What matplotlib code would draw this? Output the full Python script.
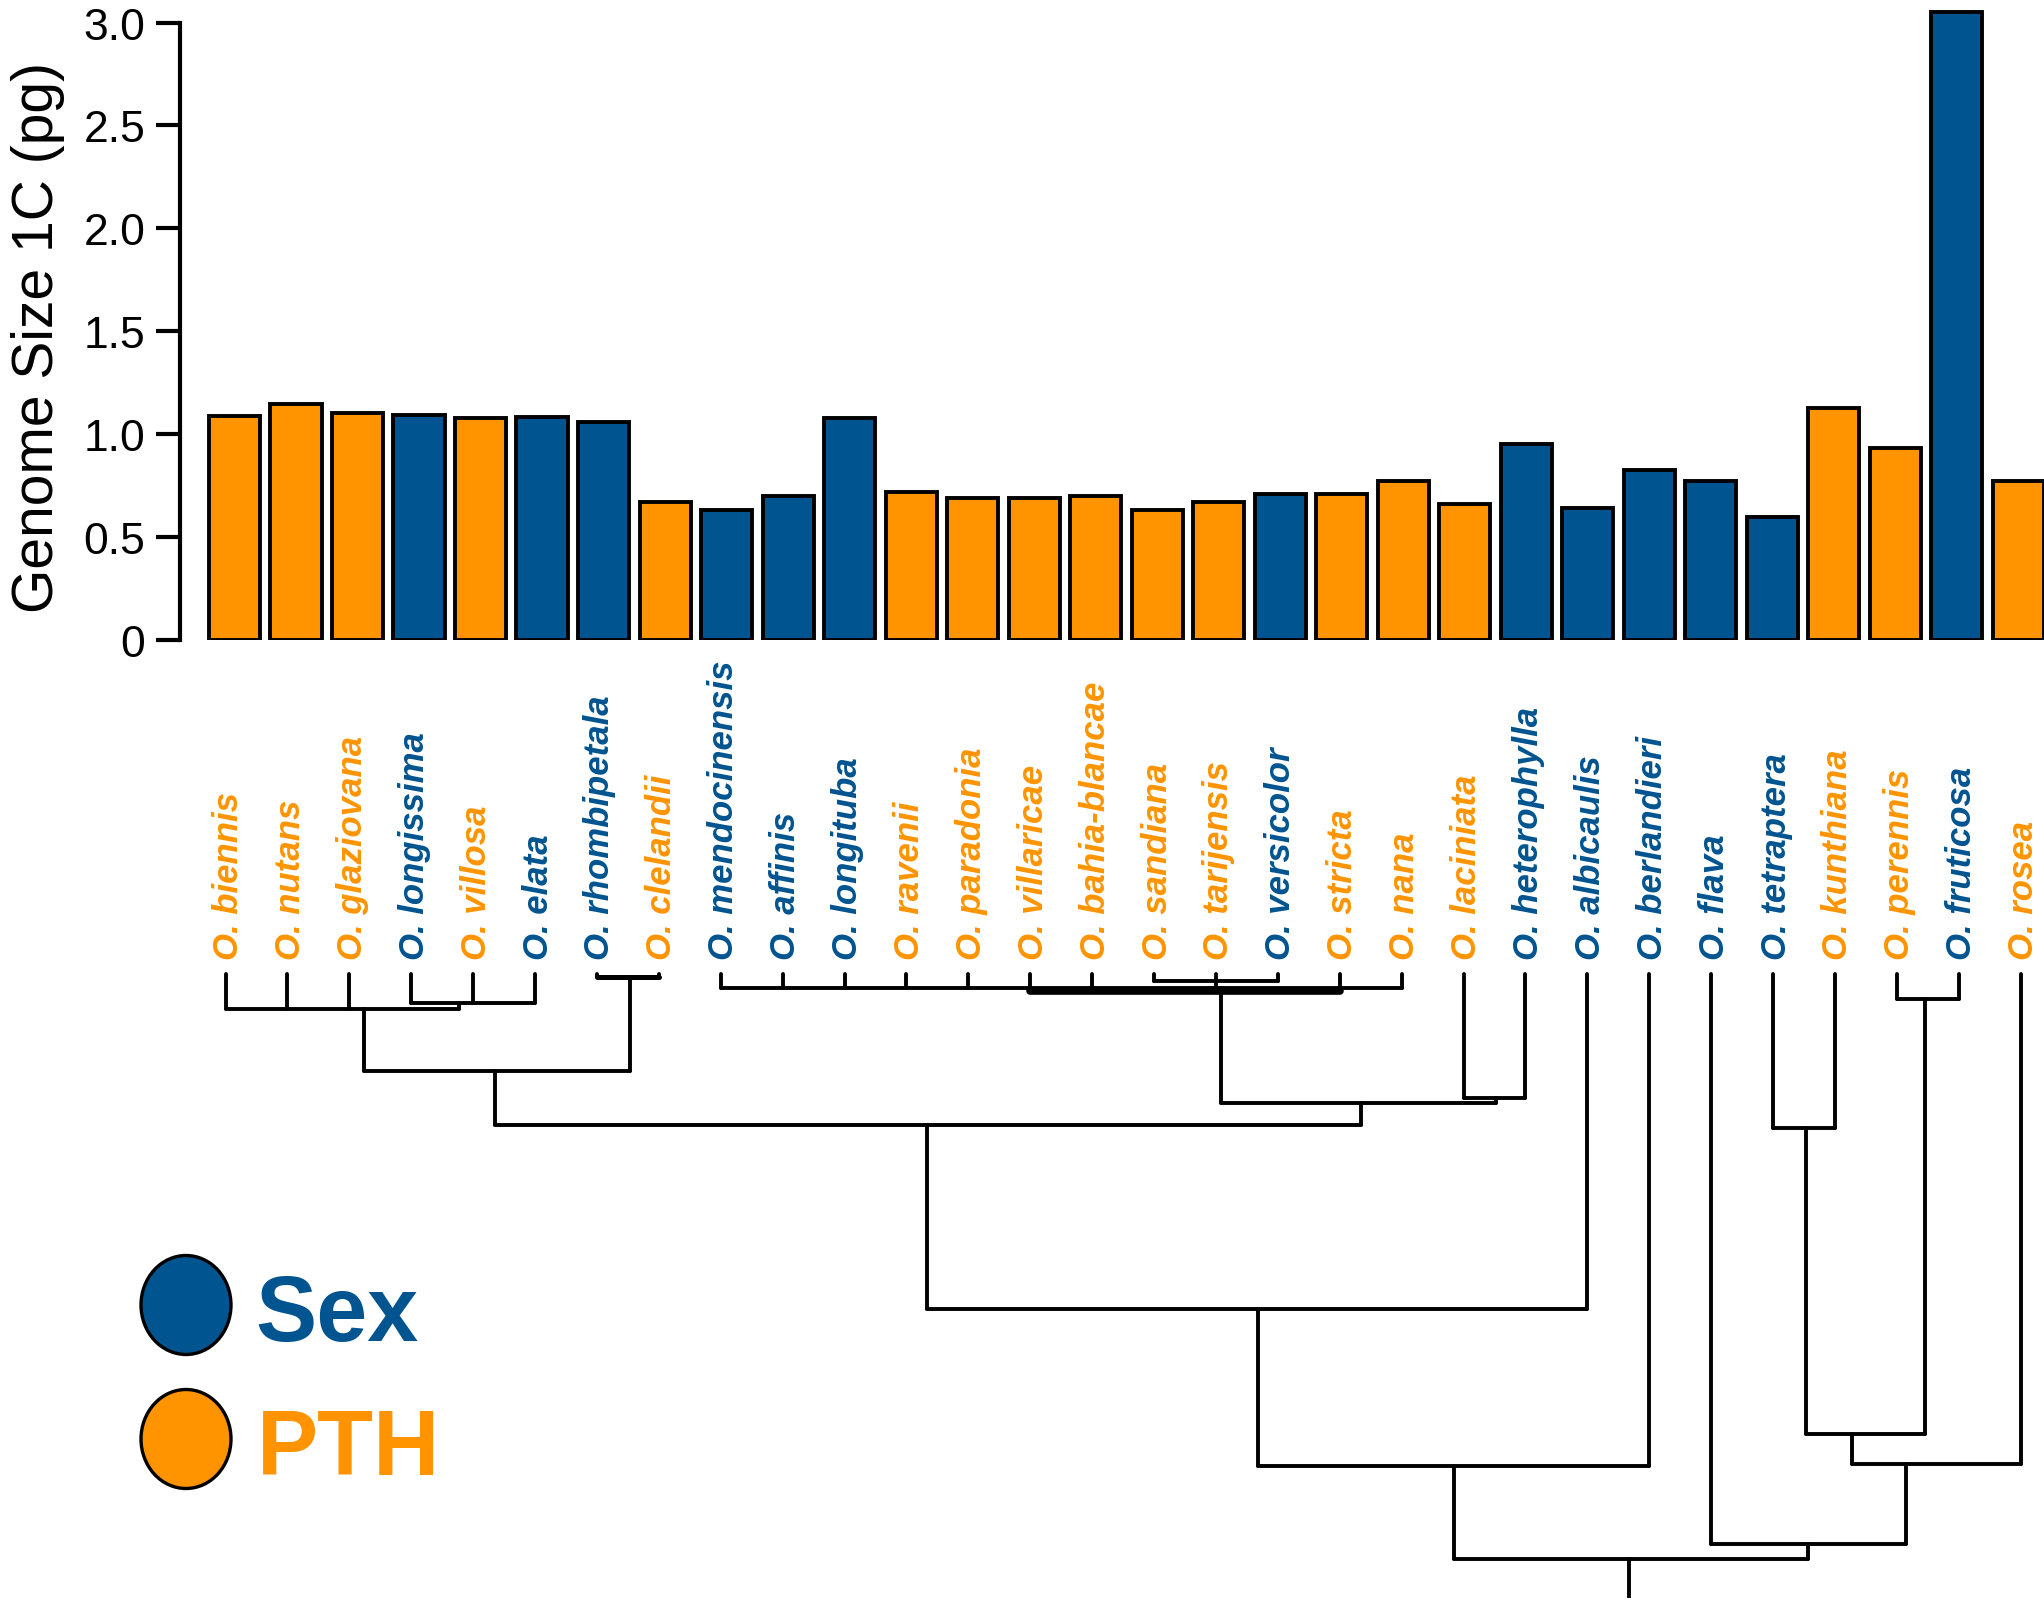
import numpy as np
import matplotlib
matplotlib.use("Agg")
import matplotlib.pyplot as plt
from matplotlib.patches import Ellipse

plt.rcParams['font.family'] = ['Liberation Sans', 'DejaVu Sans']

BLUE = '#00548F'
ORANGE = '#FF9400'

species = ['biennis', 'nutans', 'glaziovana', 'longissima', 'villosa', 'elata',
           'rhombipetala', 'clelandii', 'mendocinensis', 'affinis', 'longituba',
           'ravenii', 'paradonia', 'villaricae', 'bahia-blancae', 'sandiana',
           'tarijensis', 'versicolor', 'stricta', 'nana', 'laciniata',
           'heterophylla', 'albicaulis', 'berlandieri', 'flava', 'tetraptera',
           'kunthiana', 'perennis', 'fruticosa', 'rosea']
# S = sexual, P = permanent translocation heterozygote
mode = ['P', 'P', 'P', 'S', 'P', 'S', 'S', 'P', 'S', 'S', 'S', 'P', 'P', 'P', 'P',
        'P', 'P', 'S', 'P', 'P', 'P', 'S', 'S', 'S', 'S', 'S', 'P', 'P', 'S', 'P']
genome_size = [1.09, 1.145, 1.105, 1.095, 1.08, 1.085, 1.06, 0.67, 0.63, 0.70,
               1.08, 0.72, 0.69, 0.69, 0.70, 0.63, 0.67, 0.71, 0.71, 0.775,
               0.66, 0.95, 0.64, 0.825, 0.775, 0.60, 1.125, 0.935, 3.05, 0.775]
yticks = [0, 0.5, 1.0, 1.5, 2.0, 2.5, 3.0]
yticklabels = ['0', '0.5', '1.0', '1.5', '2.0', '2.5', '3.0']

# tree nodes: name -> (x position in tip units, depth, children, line width)
tree = {
    'B': (3.77, 28.7, [3, 4, 5], 2.8),
    'A': (2.23, 35.2, [0, 1, 2, 'B'], 2.8),
    'D': (6.53, 2.6, [6, 7], 3.6),
    'C': (4.36, 96.5, ['A', 'D'], 2.8),
    'G': (16.0, 7.0, [15, 16, 17], 2.8),
    'F': (16.09, 16.5, [13, 14, 'G', 18], 5.5),
    'E': (16.09, 14.0, [8, 9, 10, 11, 12, 'F', 19], 2.8),
    'H': (20.53, 124.0, [20, 21], 2.8),
    'I': (18.34, 129.0, ['E', 'H'], 2.8),
    'J': (11.33, 151.0, ['C', 'I'], 2.8),
    'K': (16.68, 335.0, ['J', 22], 2.8),
    'L': (19.84, 491.5, ['K', 23], 2.8),
    'M': (25.53, 153.8, [25, 26], 2.8),
    'N': (27.46, 24.8, [27, 28], 2.8),
    'O': (26.28, 460.0, ['M', 'N'], 2.8),
    'P': (27.15, 490.0, ['O', 29], 2.8),
    'Q': (25.57, 569.7, [24, 'P'], 2.8),
    'R': (22.68, 585.3, ['L', 'Q'], 2.8),
}
root = 'R'
root_stem = 622.0

colors = [BLUE if m == 'S' else ORANGE for m in mode]
W, H = 2044, 1606
fig = plt.figure(figsize=(W / 100, H / 100), dpi=100)

# bar chart
ax = fig.add_axes([180 / W, (H - 641) / H, 1864 / W, 638 / H])
x = np.arange(len(species))
ax.bar(x, genome_size, width=1 / 1.2, color=colors, edgecolor='black', linewidth=2.8)
ax.set_xlim(-0.888, 29.42)
ax.set_ylim(0, 3.1)
for s in ['top', 'right', 'bottom']:
    ax.spines[s].set_visible(False)
ax.spines['left'].set_linewidth(3)
ax.spines['left'].set_bounds(0, 3)
ax.set_xticks([])
ax.set_yticks(yticks)
ax.set_yticklabels(yticklabels, fontsize=32)
ax.tick_params(axis='y', length=17, width=3, pad=8)
fig.text(38 / W, 1 - 338 / H, 'Genome Size 1C (pg)', rotation=90, fontsize=41,
         ha='center', va='center')

# tree and tip labels
tx = fig.add_axes([0, 0, 1, 666 / H])
tx.set_xlim(-225.5 / 61.9, (W - 225.5) / 61.9)
tx.set_ylim(631, -35)
tx.axis('off')


def pos(n):
    if isinstance(n, int):
        return n, 0.0
    return tree[n][0], tree[n][1]


for name, (nx, nd, kids, lw) in tree.items():
    xs = [pos(k)[0] for k in kids]
    tx.plot([min(xs), max(xs)], [nd, nd], color='black', lw=lw,
            solid_capstyle='round')
    for k in kids:
        kx, kd = pos(k)
        tx.plot([kx, kx], [kd, nd], color='black', lw=2.8, solid_capstyle='round')
tx.plot([tree[root][0]] * 2, [tree[root][1], root_stem], color='black', lw=2.8)

for i, sp in enumerate(species):
    tx.text(i + 0.05, -15, 'O. ' + sp, rotation=90, ha='center', va='bottom',
            fontsize=25, fontweight='bold', fontstyle='italic', color=colors[i])

# legend
lg = fig.add_axes([0, 0, 1, 1])
lg.set_xlim(0, W)
lg.set_ylim(H, 0)
lg.axis('off')
lg.add_patch(Ellipse((186, 1306), 90, 99, facecolor=BLUE, edgecolor='black', lw=2.4))
lg.add_patch(Ellipse((186, 1440), 90, 99, facecolor=ORANGE, edgecolor='black', lw=2.4))
lg.text(255, 1341, 'Sex', color=BLUE, fontsize=66, fontweight='bold', va='baseline')
lg.text(257, 1475, 'PTH', color=ORANGE, fontsize=66, fontweight='bold', va='baseline')

fig.savefig('out.png', dpi=100)
